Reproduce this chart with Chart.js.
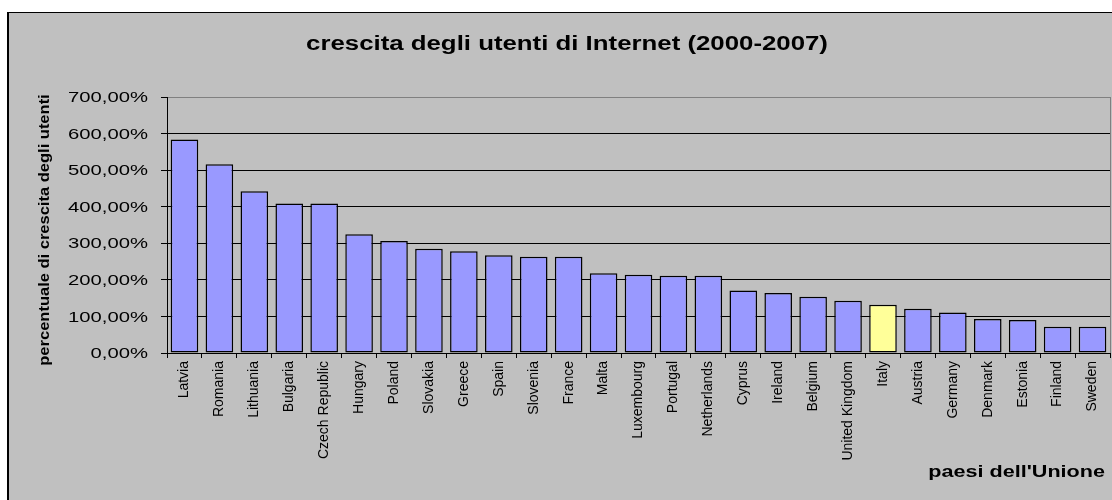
<!DOCTYPE html>
<html>
<head>
<meta charset="utf-8">
<script src="https://cdn.jsdelivr.net/npm/chart.js@4/dist/chart.umd.min.js"></script>
<style>
  html, body { margin: 0; padding: 0; background: #fff; overflow: hidden; }
  #frame {
    position: absolute; left: 7px; top: 12px; width: 1200px; height: 600px;
    background: #c0c0c0; border-left: 2px solid #000; border-top: 1px solid #000;
  }
  #wrap { position: absolute; left: 0; top: 0; width: 1112px; height: 500px; }
</style>
</head>
<body>
<div id="frame"></div>
<div id="wrap"><canvas id="growthChart"></canvas></div>
<script>
// Internet user growth 2000-2007, EU countries (percent)
const countries = ['Latvia', 'Romania', 'Lithuania', 'Bulgaria', 'Czech Republic', 'Hungary', 'Poland',
  'Slovakia', 'Greece', 'Spain', 'Slovenia', 'France', 'Malta', 'Luxembourg', 'Portugal', 'Netherlands',
  'Cyprus', 'Ireland', 'Belgium', 'United Kingdom', 'Italy', 'Austria', 'Germany', 'Denmark', 'Estonia',
  'Finland', 'Sweden'];
const growth = [584, 516, 442, 409, 409, 325, 306, 285, 278, 267, 263, 263, 218, 214, 211, 211,
  171, 164, 154, 143, 132, 121, 111, 93, 90, 72, 72];
const yTicks = [0, 100, 200, 300, 400, 500, 600, 700];
const highlight = 'Italy';

const chartTitle = 'crescita degli utenti di Internet (2000-2007)';
const yTitle = 'percentuale di crescita degli utenti';
const xTitle = "paesi dell'Unione";

const FONT = '"Liberation Sans", Arial, sans-serif';
Chart.defaults.font.family = FONT;

function pct(v) {
  return v.toFixed(2).replace('.', ',') + '%';
}

// draw text squeezed/stretched along its own direction
function wideText(ctx, text, x, y, sx, align, rot) {
  ctx.save();
  ctx.translate(x, y);
  if (rot) ctx.rotate(rot);
  ctx.scale(sx, 1);
  ctx.textAlign = align;
  ctx.fillText(text, 0, 0);
  ctx.restore();
}

const textLayer = {
  id: 'textLayer',
  beforeDatasetsDraw(chart) {
    const { ctx, chartArea } = chart;
    ctx.save();
    ctx.strokeStyle = '#808080';
    ctx.lineWidth = 1;
    ctx.beginPath();
    ctx.moveTo(chartArea.right + 0.5, chartArea.top);
    ctx.lineTo(chartArea.right + 0.5, chartArea.bottom);
    ctx.stroke();
    ctx.restore();
  },
  afterDraw(chart) {
    const ctx = chart.ctx;
    const y = chart.scales.y;
    ctx.save();
    ctx.fillStyle = '#000';

    ctx.font = 'bold 20px ' + FONT;
    ctx.textBaseline = 'alphabetic';
    wideText(ctx, chartTitle, 567, 50, 1.29, 'center');

    ctx.font = '15px ' + FONT;
    ctx.textBaseline = 'middle';
    y.ticks.forEach(t => {
      wideText(ctx, pct(t.value), y.right - 19, y.getPixelForValue(t.value) + 1, 1.35, 'right');
    });

    ctx.font = 'bold 17px ' + FONT;
    ctx.textBaseline = 'alphabetic';
    wideText(ctx, xTitle, 1105, 477, 1.27, 'right');

    ctx.font = 'bold 15px ' + FONT;
    wideText(ctx, yTitle, 49, (y.top + y.bottom) / 2 + 5, 1.1, 'center', -Math.PI / 2);
    ctx.restore();
  }
};

new Chart(document.getElementById('growthChart'), {
  type: 'bar',
  data: {
    labels: countries,
    datasets: [{
      data: growth,
      backgroundColor: countries.map(c => c === highlight ? '#FFFF99' : '#9999FF'),
      borderColor: '#000',
      borderWidth: 1.5,
      borderSkipped: false,
      categoryPercentage: 1,
      barPercentage: 0.79
    }]
  },
  options: {
    responsive: true,
    maintainAspectRatio: false,
    animation: false,
    events: [],
    layout: { padding: { top: 97, left: 0, right: 2, bottom: 0 } },
    plugins: {
      legend: { display: false },
      tooltip: { enabled: false },
      title: { display: false }
    },
    scales: {
      x: {
        grid: { drawOnChartArea: false, drawTicks: true, tickLength: 5, color: '#000' },
        border: { color: '#000', width: 1 },
        ticks: {
          color: '#000',
          font: { size: 14 },
          minRotation: 90,
          maxRotation: 90,
          autoSkip: false,
          padding: 3
        },
        afterFit(scale) {
          scale.height = 147;
          scale.paddingLeft = 0;
          scale.paddingRight = 0;
        }
      },
      y: {
        min: 0,
        max: 700,
        afterBuildTicks(scale) {
          scale.ticks = yTicks.map(v => ({ value: v }));
        },
        grid: {
          color: ctx => ctx.tick && ctx.tick.value === 700 ? '#808080' : '#000',
          tickColor: '#000',
          tickLength: 6,
          lineWidth: 1
        },
        border: { color: '#000', width: 1 },
        ticks: { display: false },
        afterFit(scale) {
          scale.width = 167;
        }
      }
    }
  },
  plugins: [textLayer]
});
</script>
</body>
</html>
